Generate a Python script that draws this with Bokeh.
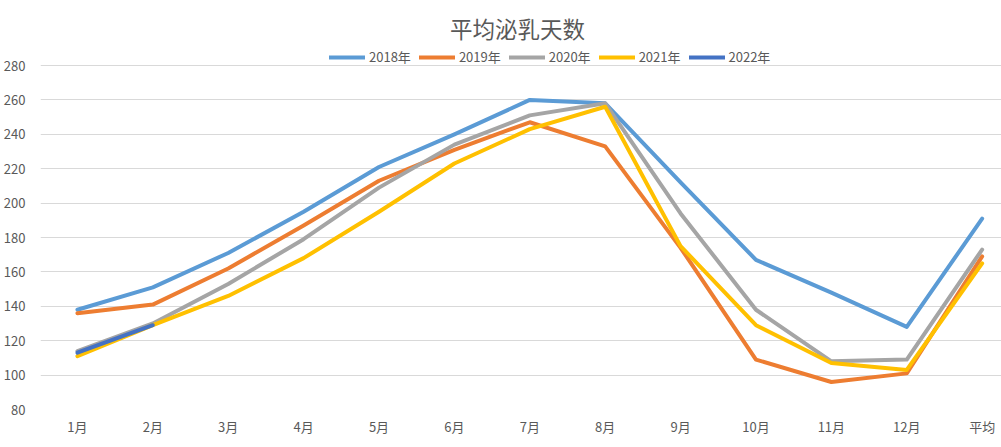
from bokeh.plotting import figure
from bokeh.models import Legend, LegendItem, FixedTicker, ColumnDataSource, Label
from bokeh.embed import file_html
from bokeh.resources import INLINE

months = ["1月", "2月", "3月", "4月", "5月", "6月", "7月", "8月", "9月", "10月", "11月", "12月", "平均"]
y2018 = [138, 151, 171, 195, 221, 240, 260, 258, 212, 167, 148, 128, 191]
y2019 = [136, 141, 162, 187, 213, 231, 247, 233, 174, 109, 96, 101, 169]
y2020 = [114, 130, 153, 179, 209, 234, 251, 258, 194, 138, 108, 109, 173]
y2021 = [111, 129, 146, 168, 195, 223, 243, 256, 175, 129, 107, 103, 165]
y2022 = [113, 129]
series_names = ["2018年", "2019年", "2020年", "2021年", "2022年"]
series_values = [y2018, y2019, y2020, y2021, y2022]
colors = ["#5B9BD5", "#ED7D31", "#A5A5A5", "#FFC000", "#4472C4"]
y_ticks = [80, 100, 120, 140, 160, 180, 200, 220, 240, 260, 280]
title_text = "平均泌乳天数"

FONT = "Noto Sans CJK SC"
TXT = "#595959"
FW, FH = 962, 409
Y_TOP = 280 + 65 / 1.72  # frame also holds the title/legend band

p = figure(frame_width=FW, frame_height=FH, output_backend="svg", toolbar_location=None,
           x_range=(-0.49, 12.27), y_range=(80, Y_TOP),
           min_border_left=0, min_border_right=0, min_border_top=0, min_border_bottom=0)
p.outline_line_color = None

p.xaxis.ticker = FixedTicker(ticks=list(range(len(months))))
p.xaxis.major_label_overrides = {i: m for i, m in enumerate(months)}
p.yaxis.ticker = FixedTicker(ticks=y_ticks)
for ax in (p.xaxis, p.yaxis):
    ax.axis_line_color = None
    ax.major_tick_line_color = None
    ax.minor_tick_line_color = None
    ax.major_label_text_font = FONT
    ax.major_label_text_font_size = "13px"
    ax.major_label_text_color = TXT
p.xaxis.major_label_standoff = 1
p.yaxis.major_label_standoff = 9
p.xgrid.grid_line_color = None
p.ygrid.grid_line_color = "#D9D9D9"
p.ygrid.grid_line_width = 1

items = []
for name, vals, c in zip(series_names, series_values, colors):
    src = ColumnDataSource(dict(x=list(range(len(vals))), y=vals))
    r = p.line("x", "y", source=src, line_color=c, line_width=4, line_join="round", line_cap="round")
    items.append(LegendItem(label=name, renderers=[r]))

legend = Legend(items=items, orientation="horizontal", location=(289, 343),
                label_text_font=FONT, label_text_font_size="13px", label_text_color=TXT,
                glyph_width=36, glyph_height=10, label_standoff=4, spacing=8,
                padding=0, margin=0, border_line_color=None, background_fill_alpha=0)
p.add_layout(legend, "center")

p.add_layout(Label(x=477, y=382, x_units="screen", y_units="screen", text=title_text,
                   text_font=FONT, text_font_size="22.5px", text_color=TXT,
                   text_align="center", text_baseline="middle"))

open("out.html", "w").write(file_html(p, INLINE))
